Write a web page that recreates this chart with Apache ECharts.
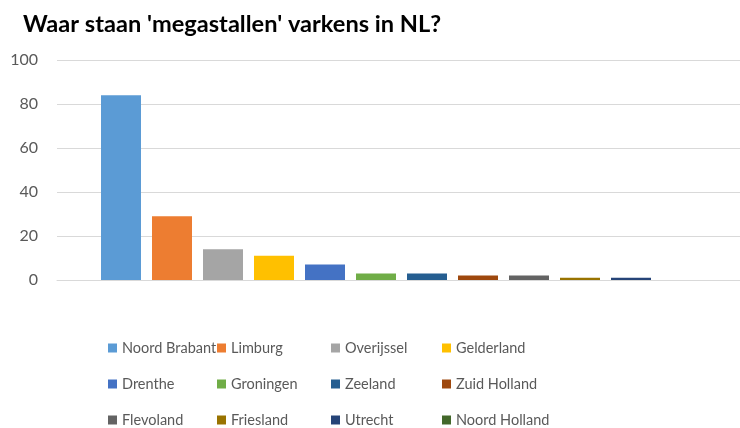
<!DOCTYPE html>
<html>
<head>
<meta charset="utf-8">
<script src="https://cdn.jsdelivr.net/npm/echarts@6/dist/echarts.min.js"></script>
<style>
  html, body { margin: 0; padding: 0; background: #fff; }
  #chart { width: 740px; height: 428px; }
</style>
</head>
<body>
<div id="chart"></div>
<script>
const provinces = [
  'Noord Brabant', 'Limburg', 'Overijssel', 'Gelderland',
  'Drenthe', 'Groningen', 'Zeeland', 'Zuid Holland',
  'Flevoland', 'Friesland', 'Utrecht', 'Noord Holland'
]
const counts = [84, 29, 14, 11, 7, 3, 3, 2, 2, 1, 1, 0]
const colors = [
  '#5B9BD5', '#ED7D31', '#A5A5A5', '#FFC000',
  '#4472C4', '#70AD47', '#255E91', '#9E480E',
  '#636363', '#997300', '#264478', '#43682B'
]
const yTicks = { min: 0, max: 100, interval: 20 }

const chart = echarts.init(document.getElementById('chart'))

const textColor = '#595959'
const gridColor = '#d9d9d9'

// legend laid out as 4 columns of 3 rows, like the Excel original
const legendCols = [108, 217, 331, 442]
const legends = legendCols.map((x, col) => ({
  orient: 'vertical',
  left: x,
  top: 338,
  height: 100,
  padding: 0,
  itemWidth: 9,
  itemHeight: 9,
  itemGap: 16,
  icon: 'rect',
  selectedMode: false,
  data: [0, 1, 2].map((row) => provinces[row * 4 + col]),
  textStyle: {
    color: textColor,
    fontFamily: 'Lato',
    fontSize: 14.5,
    lineHeight: 20,
  },
}))

chart.setOption({
  animation: false,
  color: colors,
  title: {
    text: "Waar staan 'megastallen' varkens in NL?",
    left: 18,
    top: 7,
    textStyle: {
      fontFamily: 'Lato',
      fontWeight: 'bold',
      fontSize: 23.6,
      color: '#000',
    },
  },
  legend: legends,
  grid: {
    left: 57,
    top: 60,
    width: 689,
    height: 220,
    outerBoundsMode: 'none',
  },
  xAxis: {
    type: 'category',
    data: [''],
    axisLine: { show: true, lineStyle: { color: gridColor, width: 1 } },
    axisTick: { show: false },
    axisLabel: { show: false },
  },
  yAxis: {
    type: 'value',
    min: yTicks.min,
    max: yTicks.max,
    interval: yTicks.interval,
    axisLine: { show: false },
    axisTick: { show: false },
    axisLabel: {
      color: textColor,
      fontFamily: 'Lato',
      fontSize: 16,
      margin: 19,
    },
    splitLine: { lineStyle: { color: gridColor, width: 1 } },
  },
  series: provinces.map((name, i) => ({
    name,
    type: 'bar',
    data: [counts[i]],
    barWidth: 40,
    barGap: '27.5%',
    itemStyle: { color: colors[i] },
  })),
})
</script>
</body>
</html>
